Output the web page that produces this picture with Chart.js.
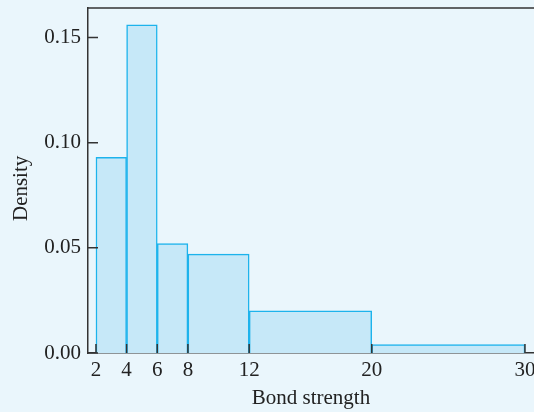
<!DOCTYPE html>
<html>
<head>
<meta charset="utf-8">
<script src="https://cdn.jsdelivr.net/npm/chart.js@4.4.1/dist/chart.umd.min.js"></script>
<style>
  html, body { margin: 0; padding: 0; background: #eaf6fc; }
  #wrap { width: 534px; height: 412px; }
</style>
</head>
<body>
<div id="wrap"><canvas id="hist" width="534" height="412"></canvas></div>
<script>
// Bond strength histogram (unequal class widths)
const binStarts = [2, 4, 6, 8, 12, 20];
const binEnds = [4, 6, 8, 12, 20, 30];
const densities = [0.093, 0.156, 0.052, 0.047, 0.020, 0.004];
const xTickValues = [2, 4, 6, 8, 12, 20, 30];
const yTickValues = [0, 0.05, 0.10, 0.15];

const axisColor = '#333333';
const serif = "'Liberation Serif', 'DejaVu Serif', serif";

// background, frame top line and inward tick marks
const histPlugin = {
  id: 'histPlugin',
  beforeDraw(chart) {
    const ctx = chart.ctx;
    ctx.save();
    ctx.fillStyle = '#eaf6fc';
    ctx.fillRect(0, 0, chart.width, chart.height);
    ctx.restore();
  },
  afterDatasetsUpdate(chart) {
    const x = chart.scales.x;
    chart.getDatasetMeta(0).data.forEach((el, i) => {
      const l = x.getPixelForValue(binStarts[i]);
      const r = x.getPixelForValue(binEnds[i]);
      el.x = (l + r) / 2;
      el.width = r - l;
    });
  },
  afterDraw(chart) {
    const { ctx, chartArea, scales } = chart;
    ctx.save();
    ctx.strokeStyle = axisColor;
    ctx.lineWidth = 1.5;
    ctx.beginPath();
    ctx.moveTo(chartArea.left, chartArea.top);
    ctx.lineTo(chart.width, chartArea.top);
    yTickValues.forEach(v => {
      const py = scales.y.getPixelForValue(v);
      ctx.moveTo(chartArea.left, py);
      ctx.lineTo(chartArea.left + 10, py);
    });
    xTickValues.forEach(v => {
      const px = scales.x.getPixelForValue(v);
      ctx.moveTo(px, chartArea.bottom);
      ctx.lineTo(px, chartArea.bottom - 9);
    });
    ctx.stroke();
    ctx.restore();
  }
};

new Chart(document.getElementById('hist'), {
  type: 'bar',
  data: {
    datasets: [{
      data: densities.map((d, i) => ({ x: (binStarts[i] + binEnds[i]) / 2, y: d })),
      backgroundColor: '#c6e8f8',
      borderColor: '#1db3ec',
      borderWidth: 1.5,
      barPercentage: 1,
      categoryPercentage: 1
    }]
  },
  options: {
    responsive: false,
    animation: false,
    layout: { padding: { top: 8, right: 0, left: 0, bottom: 0 } },
    plugins: { legend: { display: false }, tooltip: { enabled: false } },
    scales: {
      x: {
        type: 'linear',
        offset: false,
        min: 1.48,
        max: 30.59,
        afterBuildTicks: s => { s.ticks = xTickValues.map(v => ({ value: v })); },
        afterFit: s => { s.height = 59; s.paddingLeft = 0; s.paddingRight = 0; },
        grid: { display: false, drawTicks: false },
        border: { display: true, color: axisColor, width: 1.5 },
        ticks: {
          autoSkip: false,
          maxRotation: 0,
          padding: 5,
          color: '#222',
          font: { family: serif, size: 21 },
          callback: v => String(v)
        },
        title: {
          display: true,
          text: 'Bond strength',
          color: '#222',
          font: { family: serif, size: 21 },
          padding: { top: 0, bottom: 1 }
        }
      },
      y: {
        min: 0,
        max: 0.164,
        afterBuildTicks: s => { s.ticks = yTickValues.map(v => ({ value: v })); },
        afterFit: s => { s.width = 88; s.paddingTop = 0; s.paddingBottom = 0; },
        grid: { display: false, drawTicks: false },
        border: { display: true, color: axisColor, width: 1.5 },
        ticks: {
          padding: 7,
          color: '#222',
          font: { family: serif, size: 21 },
          callback: v => v.toFixed(2)
        },
        title: {
          display: true,
          text: 'Density   ',
          color: '#222',
          font: { family: serif, size: 21 },
          padding: { top: 9, bottom: 0 }
        }
      }
    }
  },
  plugins: [histPlugin]
});
</script>
</body>
</html>
